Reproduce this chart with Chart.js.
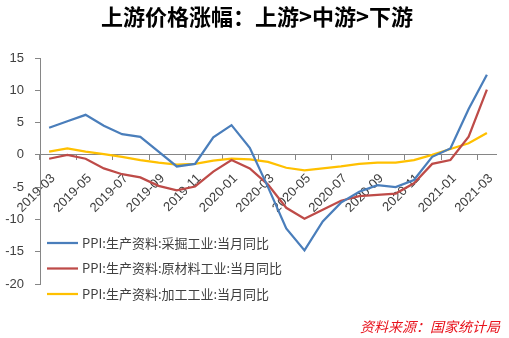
<!DOCTYPE html>
<html>
<head>
<meta charset="utf-8">
<script src="https://cdn.jsdelivr.net/npm/chart.js@4"></script>
<style>
html,body{margin:0;padding:0;background:#fff;}
#wrap{position:relative;width:509px;height:338px;}
</style>
</head>
<body>
<div id="wrap"><canvas id="c" width="509" height="338"></canvas></div>
<script>
const months = ["2019-03","2019-04","2019-05","2019-06","2019-07","2019-08","2019-09","2019-10","2019-11","2019-12",
  "2020-01","2020-02","2020-03","2020-04","2020-05","2020-06","2020-07","2020-08","2020-09","2020-10","2020-11","2020-12",
  "2021-01","2021-02","2021-03"];
const mining = [4.2,5.2,6.2,4.5,3.2,2.8,0.5,-1.8,-1.4,2.7,4.6,1.1,-5.0,-11.4,-14.8,-10.3,-7.4,-5.7,-4.7,-5.0,-3.9,-0.3,1.0,7.1,12.4];
const rawMaterial = [-0.6,0.0,-0.6,-2.1,-3.0,-3.5,-4.8,-5.5,-4.9,-2.6,-0.8,-2.1,-4.6,-8.2,-9.9,-8.5,-7.1,-6.4,-6.2,-6.0,-4.4,-1.4,-0.8,2.8,10.1];
const processing = [0.5,1.0,0.5,0.1,-0.3,-0.8,-1.2,-1.5,-1.4,-0.9,-0.6,-0.7,-1.1,-2.0,-2.4,-2.1,-1.8,-1.4,-1.2,-1.2,-0.8,0.0,0.9,1.8,3.4];
const seriesNames = ["PPI:生产资料:采掘工业:当月同比","PPI:生产资料:原材料工业:当月同比","PPI:生产资料:加工工业:当月同比"];
const yTicks = [15,10,5,0,-5,-10,-15,-20];
const titleText = "上游价格涨幅：上游>中游>下游";
const sourceText = "资料来源：国家统计局";

const colors = ["#4A7EBB","#BE4B48","#FFC000"];
const axisColor = "#868686";

const overlay = {
  id: 'overlay',
  afterDraw(chart) {
    const ctx = chart.ctx;
    const ca = chart.chartArea;
    ctx.save();
    // title
    ctx.fillStyle = '#000';
    ctx.font = 'bold 22px "Noto Sans CJK SC"';
    ctx.textAlign = 'center';
    ctx.textBaseline = 'middle';
    ctx.fillText(titleText, 257, 17);
    // legend
    ctx.font = '13px "Noto Sans CJK SC"';
    ctx.textAlign = 'left';
    chart.data.datasets.forEach((ds, i) => {
      const y = 243 + i * 25.5;
      ctx.strokeStyle = ds.borderColor;
      ctx.lineWidth = 2.25;
      ctx.beginPath();
      ctx.moveTo(ca.left + 7, y);
      ctx.lineTo(ca.left + 38, y);
      ctx.stroke();
      ctx.fillStyle = '#404040';
      ctx.fillText(ds.label, ca.left + 42, y);
    });
    // source
    ctx.fillStyle = '#E8141E';
    ctx.font = 'italic 14px "Noto Sans CJK SC"';
    ctx.textAlign = 'right';
    ctx.fillText(sourceText, 500, 327);
    ctx.restore();
  }
};

new Chart(document.getElementById('c'), {
  type: 'line',
  data: {
    labels: months,
    datasets: [
      {label: seriesNames[0], data: mining, borderColor: colors[0]},
      {label: seriesNames[1], data: rawMaterial, borderColor: colors[1]},
      {label: seriesNames[2], data: processing, borderColor: colors[2]}
    ].map(d => Object.assign(d, {borderWidth: 2.25, pointRadius: 0, tension: 0, fill: false}))
  },
  options: {
    responsive: false,
    animation: false,
    layout: {padding: {top: 58, bottom: 54, left: 0, right: 4}},
    plugins: {legend: {display: false}, title: {display: false}, tooltip: {enabled: false}},
    scales: {
      x: {
        position: {y: 0},
        offset: true,
        grid: {
          offset: true,
          drawOnChartArea: false,
          drawTicks: true,
          tickLength: 5,
          color: (c) => (c.index % 2 === 0 ? axisColor : 'rgba(0,0,0,0)'),
          lineWidth: 1
        },
        border: {color: axisColor, width: 1},
        ticks: {
          autoSkip: false,
          minRotation: 45,
          maxRotation: 45,
          padding: 11,
          labelOffset: 4,
          color: '#404040',
          font: {family: '"Liberation Sans", Arial, sans-serif', size: 13},
          callback: function(v, i) { return i % 2 === 0 ? this.getLabelForValue(v) : ''; }
        }
      },
      y: {
        min: -20,
        max: 15,
        afterBuildTicks: (s) => { s.ticks = yTicks.map(v => ({value: v})); },
        afterFit: (s) => { s.width = 40; },
        grid: {drawOnChartArea: false, drawTicks: true, tickLength: 5, color: axisColor},
        border: {color: axisColor, width: 1},
        ticks: {
          padding: 11,
          color: '#404040',
          font: {family: '"Liberation Sans", Arial, sans-serif', size: 13}
        }
      }
    }
  },
  plugins: [overlay]
});
</script>
</body>
</html>
